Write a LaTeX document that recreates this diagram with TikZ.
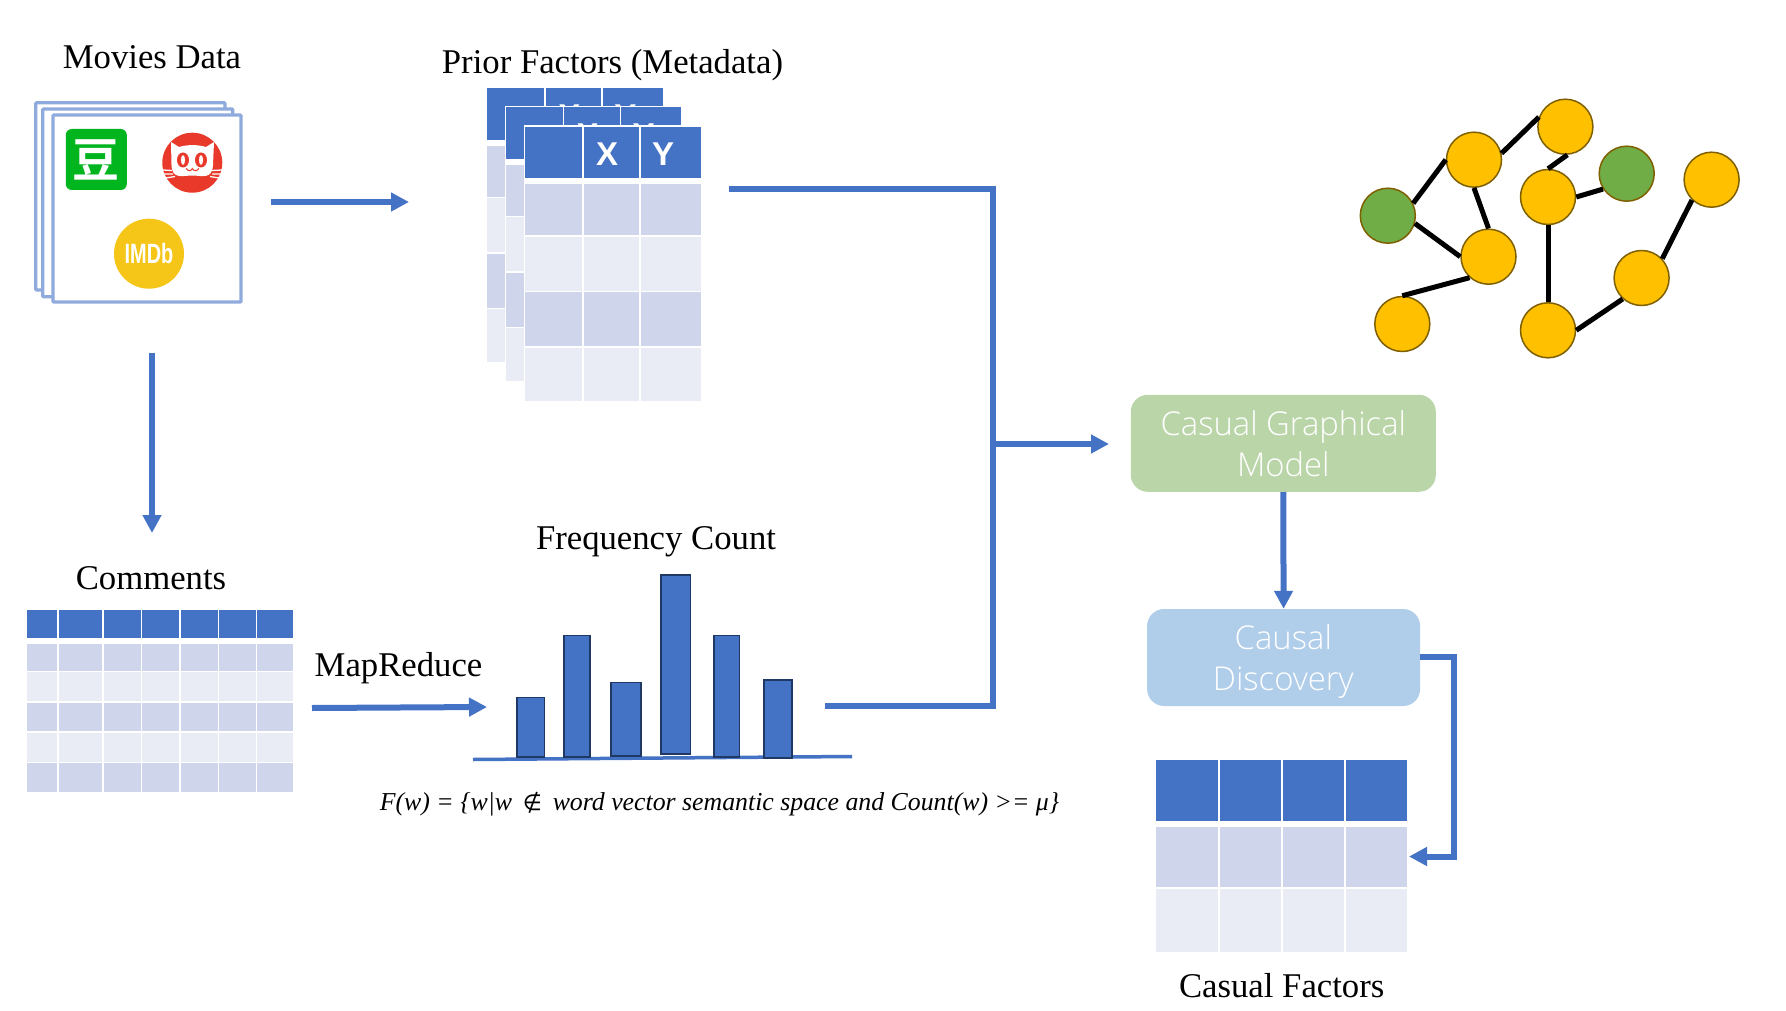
\documentclass[tikz,border=0pt]{standalone}
\usepackage{fontspec}
\setmainfont{Liberation Serif}
\setsansfont{Liberation Sans}
\newfontfamily\cjk{Noto Sans CJK SC}[BoldFont={* Bold}]
\newfontfamily\symf{DejaVu Sans}
\newfontfamily\lightsans{Open Sans Light}
\usetikzlibrary{arrows.meta,shapes.geometric}
\definecolor{hdr}{HTML}{4472C4}
\definecolor{rowa}{HTML}{CFD5EA}
\definecolor{rowb}{HTML}{E9EBF5}
\definecolor{sheetc}{HTML}{8FAADC}
\definecolor{gold}{HTML}{FFC000}
\definecolor{leaf}{HTML}{70AD47}
\definecolor{ringc}{HTML}{7F6000}
\definecolor{catred}{HTML}{E8392A}
\definecolor{imdbc}{HTML}{F5C518}
\definecolor{doubanc}{HTML}{00B51D}
\definecolor{boxgreen}{HTML}{BAD6A9}
\definecolor{boxblue}{HTML}{B0CDEA}
\definecolor{bardark}{HTML}{1F3864}
\tikzset{
  x=1pt,y=-1pt,
  serif label/.style={font=\fontsize{34.7}{40}\selectfont,anchor=base,inner sep=0pt,text=black},
  box label/.style={font=\lightsans\fontsize{32.8}{42}\selectfont,text=white,anchor=base,inner sep=0pt},
  flow/.style={draw=hdr,line width=6pt,-{Triangle[length=18pt,width=18pt]}},
  plainflow/.style={draw=hdr,line width=6pt,line join=miter},
  sheet/.style={draw=sheetc,line width=3.3pt,fill=white,rounded corners=1pt},
  gnode/.style={circle,draw=ringc,line width=1.5pt,minimum size=55pt,inner sep=0pt,fill=gold},
  gleaf/.style={gnode,fill=leaf},
  gedge/.style={draw=black,line width=5pt},
  bar/.style={fill=hdr,draw=bardark,line width=1.6pt},
  roundbox/.style={rounded corners=17pt,inner sep=0pt}
}
% one table cell: x0 y0 x1 y1 colour
\newcommand{\tcell}[5]{\fill[#5] (#1,#2) rectangle (#3,#4);}
% prior table with offset
\newcommand{\priortable}[2]{%
\begin{scope}[shift={(#1,#2)}]
  \fill[white] (524,125) rectangle (702,402);
  \foreach \xa/\xb in {525/582,583.5/639,640.5/700.7}{
    \tcell{\xa}{126.7}{\xb}{178}{hdr}
    \tcell{\xa}{184}{\xb}{235}{rowa}
    \tcell{\xa}{236.7}{\xb}{290.7}{rowb}
    \tcell{\xa}{292.2}{\xb}{346}{rowa}
    \tcell{\xa}{347.5}{\xb}{400.7}{rowb}
  }
  \node[font=\sffamily\bfseries\fontsize{33}{40}\selectfont,text=white,anchor=base,inner sep=0pt] at (607,166) {X};
  \node[font=\sffamily\bfseries\fontsize{33}{40}\selectfont,text=white,anchor=base,inner sep=0pt] at (663,166) {Y};
\end{scope}}
\begin{document}
\begin{tikzpicture}
\useasboundingbox (0,0) rectangle (1786,1011);
\fill[white] (0,0) rectangle (1786,1011);

% ---------- Movies data stack
\draw[sheet] (35.7,102.7) rectangle (225,290);
\draw[sheet] (42.7,109) rectangle (232.7,296.7);
\node[sheet,minimum width=188pt,minimum height=187pt,inner sep=0pt] (stack) at (147,208.5) {};
\node[serif label] (movieslabel) at (152,68.7) {Movies Data};

% douban
\node[fill=doubanc,rounded corners=6pt,minimum size=61pt,inner sep=0pt,font=\cjk\bfseries\fontsize{47}{47}\selectfont,text=white] (douban) at (96.3,159.5) {豆};

% maoyan cat
\fill[catred] (192.3,162.7) circle (30);
\fill[white] (171,142) -- (179,147) .. controls (187,144.5) and (198,144.5) .. (206,147)
  -- (214,142) -- (213,165) .. controls (212,180) and (202,175.5) .. (192.3,175.5)
  .. controls (183,175.5) and (172,180) .. (171.5,165) -- cycle;
\fill[catred] (183,160) ellipse (6 and 7.5);
\fill[catred] (201,160) ellipse (6 and 7.5);
\fill[white] (183,160) ellipse (2 and 5);
\fill[white] (201,160) ellipse (2 and 5);
\draw[catred,line width=1pt] (186,168.5) .. controls (189,172) and (191,171) .. (192.3,168.5) .. controls (194,171) and (196,172) .. (199,168.5);
\draw[white,line width=1.3pt] (163,170) -- (172,170.5) (164,174) -- (173,174) (166,178) -- (175,176.5)
  (222,170) -- (212,170.5) (221,174) -- (212,174) (219,178) -- (210,176.5);

% imdb
\node[circle,fill=imdbc,minimum size=70pt,inner sep=0pt] (imdb) at (149,253.7) {};
\node[font=\sffamily\bfseries\fontsize{21}{21}\selectfont,text=white,inner sep=0pt] (imdbtext) at (imdb.center) {\scalebox{0.95}[1.33]{IMDb}};

% ---------- Prior tables
\priortable{-37.7}{-38.4}
\priortable{-19.3}{-19.4}
\priortable{0}{0}
\node[serif label] (priorlabel) at (612.5,73.3) {Prior Factors (Metadata)};

% ---------- Comments table
\foreach \xa/\xb in {26.7/57,58.5/102,103.5/140.5,142/179,180.5/217.5,219/255.5,257/293.3}{
  \tcell{\xa}{610}{\xb}{638}{hdr}
  \tcell{\xa}{644}{\xb}{670.7}{rowa}
  \tcell{\xa}{672.2}{\xb}{700.7}{rowb}
  \tcell{\xa}{702.5}{\xb}{731}{rowa}
  \tcell{\xa}{732.7}{\xb}{761.7}{rowb}
  \tcell{\xa}{763.3}{\xb}{791.7}{rowa}
}
\node[serif label] (commentslabel) at (151,589) {Comments};
\node[serif label] (maplabel) at (398.5,676) {MapReduce};

% ---------- Frequency chart
\draw[hdr,line width=3.5pt] (473,759.5) -- (852,756.5);
\draw[bar] (517,697.5) rectangle (544.6,757);
\draw[bar] (564,635.5) rectangle (590,757);
\draw[bar] (611,682.5) rectangle (640.7,756);
\draw[bar] (661,575) rectangle (690.5,754);
\draw[bar] (713.7,635.5) rectangle (739.6,757);
\draw[bar] (764,680) rectangle (792,758);
\node[serif label] (freqlabel) at (656,549) {Frequency Count};
\node[font=\fontsize{25.8}{30}\selectfont\itshape,anchor=base,inner sep=0pt] (formula) at (719.5,810)
  {F(w) = \{w|w\, {\upshape\symf\fontsize{22}{26}\selectfont ∉}\, word vector semantic space and Count(w) >= μ\}};

% ---------- Right boxes
\node[roundbox,fill=boxgreen,minimum width=305pt,minimum height=97pt] (green) at (1283.3,443.3) {};
\node[box label] (greena) at (1283.3,435) {Casual Graphical};
\node[box label] (greenb) at (1283.3,476.7) {Model};
\node[roundbox,fill=boxblue,minimum width=273pt,minimum height=97pt] (blue) at (1283.6,657.5) {};
\node[box label] (bluea) at (1283.3,649) {Causal};
\node[box label] (blueb) at (1283.3,690) {Discovery};

% ---------- Factors table
\foreach \xa/\xb in {1156/1217.5,1219.5/1280.7,1282.7/1344,1346/1407.3}{
  \tcell{\xa}{760}{\xb}{820.7}{hdr}
  \tcell{\xa}{826.7}{\xb}{887.3}{rowa}
  \tcell{\xa}{889}{\xb}{951.7}{rowb}
}
\node[serif label] (factorslabel) at (1281.7,997) {Casual Factors};

% ---------- Causal graph
\node[gleaf] (n1) at (1387.8,215.7) {};
\node[gnode] (n2) at (1474,159.7) {};
\node[gnode] (n3) at (1565.4,126.7) {};
\node[gnode] (n4) at (1548,197) {};
\node[gleaf] (n5) at (1626.7,173.7) {};
\node[gnode] (n6) at (1711.6,179.7) {};
\node[gnode] (n7) at (1488.5,256.7) {};
\node[gnode] (n8) at (1402.3,324) {};
\node[gnode] (n9) at (1548,330.3) {};
\node[gnode] (n10) at (1641.6,278) {};
\foreach \a/\aa/\b/\bb in {n1/26/n2/180, n2/13/n3/160, n3/-86/n4/90, n2/-90/n7/90, n1/-16/n7/180,
  n7/228/n8/90, n4/0/n5/213, n4/-90/n9/90, n9/0/n10/228, n10/43/n6/226}{
  \draw[gedge] (\a.\aa) -- (\b.\bb);
}

% ---------- Connectors
\coordinate (stackout) at (271,202);
\coordinate (priorin) at (409,202);
\draw[flow] (stackout) -- (priorin);
\coordinate (stackdown) at (152,353);
\coordinate (commentsin) at (152,533);
\draw[flow] (stackdown) -- (commentsin);
\coordinate (tableout) at (312,708);
\coordinate (chartin) at (487,707);
\draw[flow] (tableout) -- (chartin);
\coordinate (priorout) at (729,189);
\coordinate (chartout) at (825,706);
\coordinate (busa) at (992.5,189);
\coordinate (busb) at (992.5,706);
\draw[plainflow] (priorout) -- (busa) -- (busb) -- (chartout);
\coordinate (busmid) at (992.5,444);
\coordinate (greenin) at (1109,444);
\draw[flow] (busmid) -- (greenin);
\draw[flow] (green.south) -- (blue.north);
\coordinate (blueout) at (1420,657);
\coordinate (bluecorner) at (1454,657);
\coordinate (factorscorner) at (1454,856.5);
\coordinate (factorsin) at (1409,856.5);
\draw[flow] (blueout) -- (bluecorner) -- (factorscorner) -- (factorsin);
\end{tikzpicture}
\end{document}
